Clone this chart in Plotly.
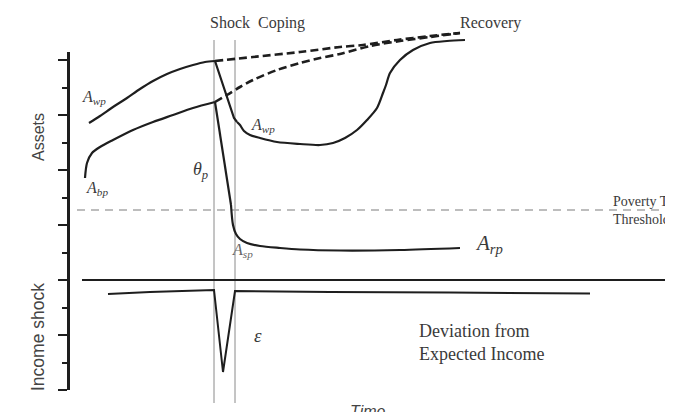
import plotly.graph_objects as go

# Coordinate system: t = time position, v = level (higher = more)
# Upper household (A_wp) before shock
wp_pre_t = [89, 100, 113, 127, 140, 153, 167, 180, 193, 205, 215]
wp_pre_v = [297, 304, 313, 322, 331, 339, 346, 351, 355, 358, 359]
# Upper household after shock (coping then recovery)
wp_post_t = [215, 222, 229, 234, 237, 240, 244, 250, 260, 277, 300, 320, 333, 345, 357, 367, 377, 383, 386, 390, 400, 413, 430, 447, 465]
wp_post_v = [359, 338, 318, 302, 298, 295, 289, 285, 282, 278, 276, 275, 277, 282, 290, 300, 312, 327, 335, 347, 360, 370, 377, 379, 380]
# Lower household (A_bp) before shock
bp_pre_t = [85, 87, 92, 100, 113, 133, 153, 173, 193, 215]
bp_pre_v = [242, 257, 267, 273, 280, 290, 298, 305, 312, 318]
# Lower household after shock (A_sp -> A_rp)
bp_drop_t = [215, 231]
bp_drop_v = [318, 215]
bp_post_t = [231, 233, 236, 240, 247, 260, 280, 300, 340, 400, 460]
bp_post_v = [215, 195, 186, 181, 177, 174, 172, 170.5, 169.5, 170, 172]
# Counterfactual (no shock) paths
cf_upper_t = [215, 253, 300, 340, 363, 397, 430, 460]
cf_upper_v = [359, 363, 368, 373, 375, 380, 384, 387]
cf_lower_t = [215, 227, 240, 253, 277, 300, 320, 340, 370, 400, 430, 460]
cf_lower_v = [318, 325, 333, 340, 350, 357, 362, 366, 374, 379, 383, 387]
# Poverty threshold and baseline
poverty_t = [77, 673]
poverty_v = [210, 210]
base_t = [82, 673]
base_v = [140, 140]
# Income shock
inc_t = [108, 150, 214, 223, 235, 330, 450, 590]
inc_v = [126, 128, 130, 48, 129, 128, 127.5, 126.5]
# Phase markers
phase_t = [214, 235]
phase_v0 = 17
phase_v1 = 380
# Axis ticks (levels)
tick_major = [30, 85, 140, 195, 250, 305, 360]
tick_minor = [57.5, 112.5, 167.5, 222.5, 277.5, 332.5]

# page is offset by the default 8px body margin; visible data window
X0, X1 = 8, 673
V0, V1 = 8, 412
W, H = X1 - X0, V1 - V0

INK = "#1e1e1e"
fig = go.Figure()

def line(t, v, width=2.2, dash=None, shape="spline", color=INK, smoothing=0.8):
    fig.add_trace(go.Scatter(x=t, y=v, mode="lines", hoverinfo="skip",
                             line=dict(color=color, width=width, dash=dash,
                                       shape=shape, smoothing=smoothing if shape == "spline" else None)))

for pt in phase_t:
    line([pt, pt], [phase_v0, phase_v1], width=1, shape="linear", color="#8a8a8a")
line(poverty_t, poverty_v, width=1.6, dash="8px,6px", shape="linear", color="#a8a8a8")
line(base_t, base_v, width=2, shape="linear")
line(wp_pre_t, wp_pre_v)
line(wp_post_t[:5], wp_post_v[:5], shape="linear")
line(wp_post_t[4:], wp_post_v[4:])
line(bp_pre_t, bp_pre_v)
line(bp_drop_t, bp_drop_v, shape="linear")
line(bp_post_t, bp_post_v)
line(cf_upper_t, cf_upper_v, width=2.6, dash="8px,4px")
line(cf_lower_t, cf_lower_v, width=2.6, dash="8px,4px")
line(inc_t, inc_v, width=2, shape="linear")

# dummy trace for the custom axis
fig.add_trace(go.Scatter(x=[None], y=[None], yaxis="y2", showlegend=False))

serif = "Liberation Serif"
sans = "Liberation Sans"
TXT = "#3a3a3a"

def ann(t, v, text, size=14, family=serif, anchor="center", color=TXT, angle=0):
    fig.add_annotation(x=t, y=v, xref="x", yref="y", text=text, showarrow=False,
                       xanchor=anchor, yanchor="middle", textangle=angle,
                       align="left" if anchor == "left" else "center",
                       font=dict(family=family, size=size, color=color))

ann(257, 397, "Shock  Coping", size=16)
ann(490, 397, "Recovery", size=16)
ann(94, 323, "<i>A<sub>wp</sub></i>", size=16)
ann(263, 295, "<i>A<sub>wp</sub></i>", size=16)
ann(97, 232, "<i>A<sub>bp</sub></i>", size=16)
ann(200, 250, "<i>θ<sub>p</sub></i>", size=18)
ann(242, 170, "<i>A<sub>sp</sub></i>", size=16, color="#666")
ann(489, 176, "<i>A<sub>rp</sub></i>", size=21)
ann(258, 85, "<i>ε</i>", size=19)
ann(417, 78, "Deviation from<br>Expected Income", size=18, anchor="left")
ann(611, 210, "Poverty Trap<br>Threshold", size=14, anchor="left")
ann(38, 283, "Assets", size=16, family=sans, angle=-90, color="#444")
ann(38, 83, "Income shock", size=17.5, family=sans, angle=-90, color="#444")
ann(368, 9, "<i>Time</i>", size=16, family=sans, color="#444")

fig.update_layout(
    width=W, height=H, margin=dict(l=0, r=0, t=0, b=0),
    plot_bgcolor="rgba(0,0,0,0)", paper_bgcolor="white", showlegend=False,
    xaxis=dict(range=[X0, X1], visible=False, fixedrange=True),
    yaxis=dict(range=[V0, V1], visible=False, fixedrange=True),
    yaxis2=dict(domain=[(30 - V0) / H, (368 - V0) / H], range=[30, 368], anchor="free",
                position=(68 - X0) / W, showline=True, linecolor=INK, linewidth=2.5,
                ticks="outside", ticklen=9, tickwidth=2, tickcolor=INK,
                tickvals=tick_major, showticklabels=False, showgrid=False,
                zeroline=False,
                minor=dict(tickvals=tick_minor, ticks="outside", ticklen=5,
                           tickwidth=2, tickcolor=INK, showgrid=False)),
)

fig.write_html("out.html")
